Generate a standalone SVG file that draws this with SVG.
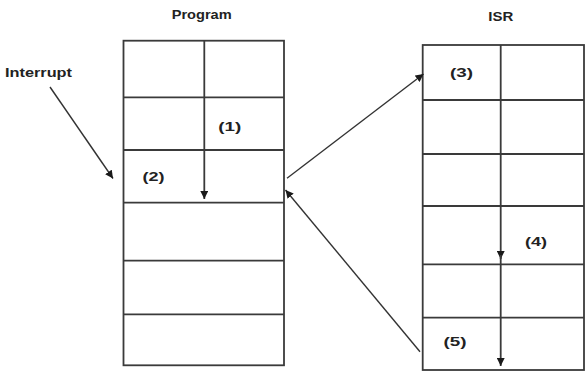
<svg xmlns="http://www.w3.org/2000/svg" width="586" height="372" viewBox="0 0 586 372">
  <style>
    .box { fill: #ffffff; stroke: #3a3a3a; stroke-width: 1.8; }
    .grid { stroke: #3a3a3a; stroke-width: 1.8; fill: none; }
    .flow { stroke: #333333; stroke-width: 1.4; fill: none; }
    .lbl { font-family: "Liberation Sans", Arial, sans-serif; font-size: 13px; font-weight: bold; fill: #222222; }
  </style>
  <defs>
    <marker id="head" viewBox="0 0 10 10" refX="10" refY="5" markerWidth="8" markerHeight="8" markerUnits="userSpaceOnUse" orient="auto">
      <path d="M0,0 L10,5 L0,10 Z" fill="#1a1a1a"/>
    </marker>
  </defs>
  <rect width="586" height="372" fill="#ffffff"/>

  <!-- main program memory -->
  <g id="program">
    <rect class="box" x="123.5" y="40.7" width="160.5" height="324.6"/>
    <path class="grid" d="M123.5,97.3 H284 M123.5,150 H284 M123.5,202.7 H284 M123.5,260.7 H284 M123.5,314.3 H284"/>
    <text class="lbl" x="171.7" y="19" textLength="60" lengthAdjust="spacingAndGlyphs">Program</text>
    <text class="lbl" x="218.3" y="130.5" textLength="23" lengthAdjust="spacingAndGlyphs">(1)</text>
    <text class="lbl" x="142.5" y="181" textLength="22" lengthAdjust="spacingAndGlyphs">(2)</text>
  </g>

  <!-- interrupt service routine -->
  <g id="isr">
    <rect class="box" x="422.7" y="45" width="161.3" height="325"/>
    <path class="grid" d="M422.7,100 H584 M422.7,154 H584 M422.7,206 H584 M422.7,264.3 H584 M422.7,317.7 H584"/>
    <text class="lbl" x="488.3" y="21" textLength="25" lengthAdjust="spacingAndGlyphs">ISR</text>
    <text class="lbl" x="450" y="77" textLength="23" lengthAdjust="spacingAndGlyphs">(3)</text>
    <text class="lbl" x="525" y="246" textLength="22" lengthAdjust="spacingAndGlyphs">(4)</text>
    <text class="lbl" x="443.5" y="346" textLength="23" lengthAdjust="spacingAndGlyphs">(5)</text>
  </g>

  <g id="interrupt">
    <text class="lbl" x="5" y="77" textLength="67" lengthAdjust="spacingAndGlyphs">Interrupt</text>
  </g>

  <!-- execution flow -->
  <g id="connectors">
    <line class="flow" x1="50" y1="87" x2="113" y2="178.5" marker-end="url(#head)"/>
    <line class="grid" x1="204.3" y1="40.7" x2="204.3" y2="199" marker-end="url(#head)"/>
    <line class="flow" x1="287" y1="178.3" x2="423.5" y2="74" marker-end="url(#head)"/>
    <line class="grid" x1="500.7" y1="45" x2="500.7" y2="259" marker-end="url(#head)"/>
    <line class="grid" x1="500.7" y1="255" x2="500.7" y2="366" marker-end="url(#head)"/>
    <line class="flow" x1="420" y1="351.7" x2="285.5" y2="190" marker-end="url(#head)"/>
  </g>
</svg>
